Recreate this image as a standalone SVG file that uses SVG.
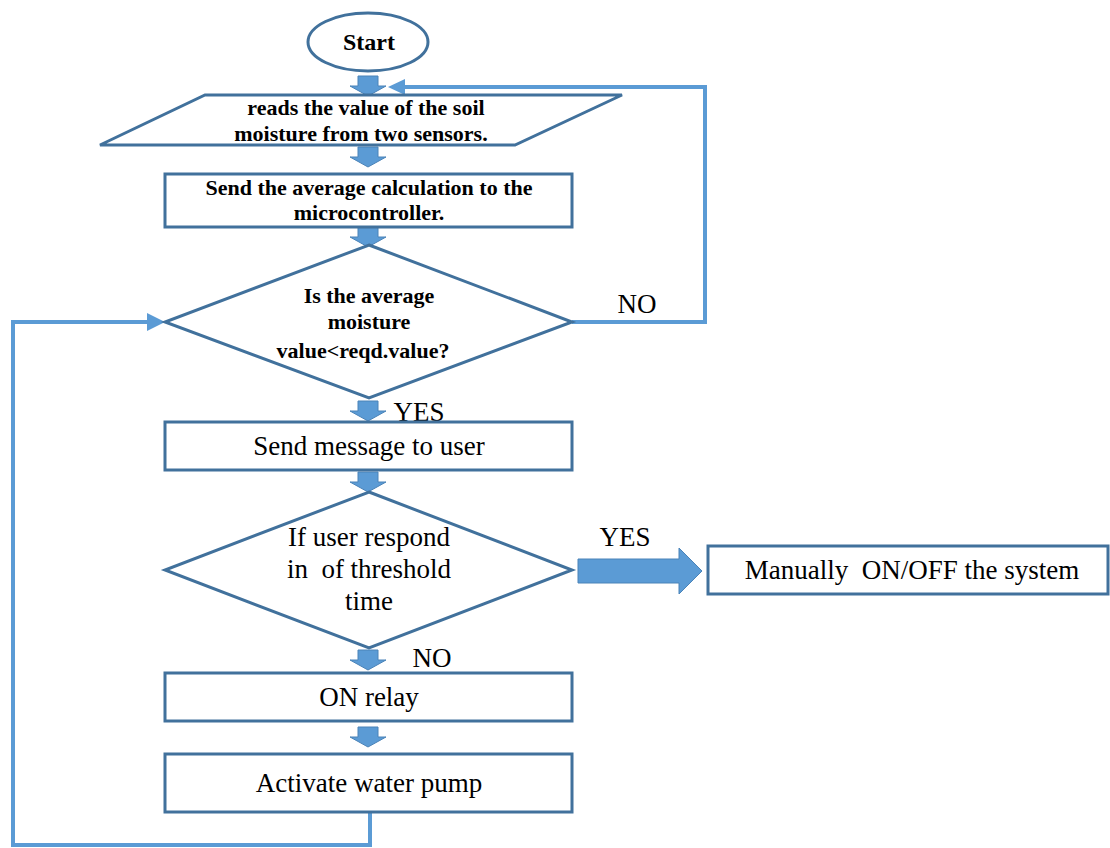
<svg xmlns="http://www.w3.org/2000/svg" width="1110" height="848" viewBox="0 0 1110 848">
  <defs>
    <style>
      .shape { fill: #ffffff; stroke: #41719c; stroke-width: 3; }
      .flow { fill: #5b9bd5; stroke: #4a83b8; stroke-width: 1; }
      .loop { fill: none; stroke: #5b9bd5; stroke-width: 4; }
      .head { fill: #5b9bd5; }
      text { font-family: "Liberation Serif", "Times New Roman", serif; fill: #000; text-anchor: middle; }
      .b { font-weight: bold; font-size: 22px; }
      .n { font-size: 27px; }
      .lbl { font-size: 27px; }
    </style>
    <!-- small down block arrow centred on x=0, y=0 top -->
    <path id="down" d="M -10 0 H 10 V 10 H 18 L 0 20 L -18 10 H -10 Z"/>
  </defs>

  <!-- connectors -->
  <g id="connectors">
    <use href="#down" class="flow" x="368" y="76"/>
    <use href="#down" class="flow" x="368" y="147"/>
    <use href="#down" class="flow" x="368" y="227"/>
    <use href="#down" class="flow" x="368" y="401"/>
    <use href="#down" class="flow" x="368" y="472"/>
    <use href="#down" class="flow" x="368" y="650"/>
    <use href="#down" class="flow" x="368" y="727"/>
    <!-- NO branch back to the sensor read -->
    <polyline class="loop" points="572,322 705,322 705,87 400,87"/>
    <polygon class="head" points="388,87 405,79 405,95"/>
    <!-- return loop from the pump back to the check -->
    <polyline class="loop" points="370,812 370,845 13,845 13,322 152,322"/>
    <polygon class="head" points="165,322 147,313 147,331"/>
    <!-- YES branch to manual control -->
    <path class="flow" d="M 578 559 H 679 V 548 L 702 571 L 679 594 V 583 H 578 Z"/>
    <text class="lbl" x="637" y="313">NO</text>
    <text class="lbl" x="419" y="421">YES</text>
    <text class="lbl" x="625" y="546">YES</text>
    <text class="lbl" x="432" y="667">NO</text>
  </g>

  <g id="start">
    <ellipse class="shape" cx="368" cy="42" rx="60" ry="29"/>
    <text class="b" x="369" y="50" style="font-size:24px">Start</text>
  </g>

  <g id="read-sensors">
    <polygon class="shape" points="205,95 622,95 515,145 100,145"/>
    <text class="b" x="366" y="115">reads the value of the soil</text>
    <text class="b" x="361" y="141">moisture from two sensors.</text>
  </g>

  <g id="send-average">
    <rect class="shape" x="165" y="174" width="407" height="53"/>
    <text class="b" x="369" y="195">Send the average calculation to the</text>
    <text class="b" x="369" y="220">microcontroller.</text>
  </g>

  <g id="moisture-check">
    <polygon class="shape" points="369,245 572,322 369,398 165,322"/>
    <text class="b" x="369" y="303">Is the average</text>
    <text class="b" x="369" y="329">moisture</text>
    <text class="b" x="363" y="358">value&lt;reqd.value?</text>
  </g>

  <g id="send-message">
    <rect class="shape" x="165" y="422" width="407" height="48"/>
    <text class="n" x="369" y="455">Send message to user</text>
  </g>

  <g id="user-response">
    <polygon class="shape" points="369,492 572,570 369,648 165,570"/>
    <text class="n" x="369" y="546">If user respond</text>
    <text class="n" x="369" y="578" xml:space="preserve">in  of threshold</text>
    <text class="n" x="369" y="610">time</text>
  </g>

  <g id="manual-control">
    <rect class="shape" x="708" y="546" width="400" height="48"/>
    <text class="n" x="912" y="579" xml:space="preserve">Manually  ON/OFF the system</text>
  </g>

  <g id="relay-on">
    <rect class="shape" x="165" y="673" width="407" height="48"/>
    <text class="n" x="369" y="706">ON relay</text>
  </g>

  <g id="water-pump">
    <rect class="shape" x="165" y="754" width="407" height="58"/>
    <text class="n" x="369" y="792">Activate water pump</text>
  </g>
</svg>
